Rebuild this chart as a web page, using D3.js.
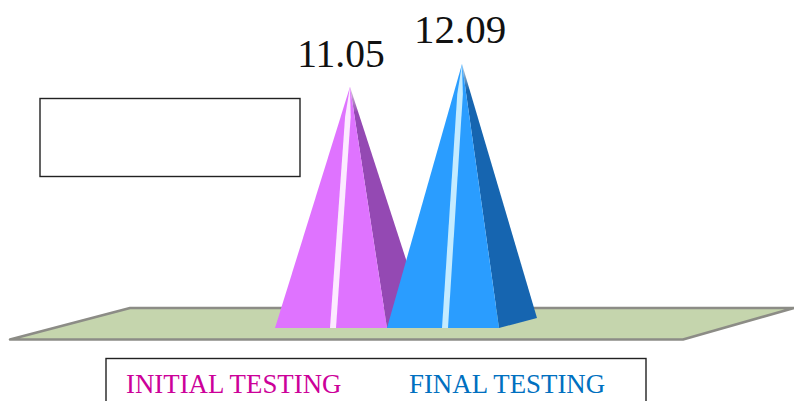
<!DOCTYPE html>
<html>
<head>
<meta charset="utf-8">
<script src="https://cdnjs.cloudflare.com/ajax/libs/d3/7.8.5/d3.min.js"></script>
<style>
    html, body { margin: 0; padding: 0; background: #fff; overflow: hidden; }
    text { font-family: "Liberation Serif", serif; }
</style>
</head>
<body>
<div id="chart"></div>
<script>
const categories = ["INITIAL TESTING", "FINAL TESTING"];
const values = [11.05, 12.09];
const frontColors = ["#df73ff", "#2a9dff"];
const sideColors = ["#9448b3", "#1565b0"];
const shineColors = ["#fcebff", "#c4ebff"];
const legendColors = ["#cc0099", "#0070c0"];

const width = 794, height = 401;
const baseY = 328;
const depthX = 38, depthY = 10;

// label placement relative to the apex, the labels sit by hand in the reference
const labelDx = [-9, -2];
const labelDy = [-20, -21];
const labelSize = [39.5, 41];

const svg = d3.select("#chart").append("svg")
    .attr("width", width)
    .attr("height", height)
    .style("display", "block");

// soft edges, the reference is a scaled up bitmap
const defs = svg.append("defs");
defs.append("filter").attr("id", "soft")
    .append("feGaussianBlur").attr("stdDeviation", 0.45);

const x = d3.scaleBand().domain(categories).range([275, 499]);
const y = d3.scaleLinear().domain([0, 12.09]).range([baseY, 64]);

const line = d3.line();

// empty box top left
svg.append("rect")
    .attr("x", 40).attr("y", 98.5)
    .attr("width", 260).attr("height", 78)
    .attr("fill", "#fff")
    .attr("stroke", "#222")
    .attr("stroke-width", 1.4);

// floor
svg.append("path")
    .attr("d", line([[10, 339.5], [130, 308], [794, 308], [683, 339.5]]) + "Z")
    .attr("fill", "#c5d5ad")
    .attr("stroke", "#8c8c86")
    .attr("stroke-width", 2.6)
    .attr("stroke-linejoin", "round")
    .attr("filter", "url(#soft)");

// pyramids, one group per category
categories.forEach((c, i) => {
    const left = x(c);
    const right = left + x.bandwidth();
    const mid = left + x.bandwidth() / 2;
    const apex = [mid + depthX / 2, y(values[i])];
    const g = svg.append("g").attr("filter", "url(#soft)");

    // fades the side face to grey at the tip
    const grad = defs.append("linearGradient")
        .attr("id", "side" + i)
        .attr("gradientUnits", "userSpaceOnUse")
        .attr("x1", 0).attr("x2", 0)
        .attr("y1", apex[1]).attr("y2", apex[1] + 26);
    grad.append("stop").attr("offset", 0).attr("stop-color", "#d8d8d8");
    grad.append("stop").attr("offset", 1).attr("stop-color", sideColors[i]);

    g.append("path")
        .attr("d", line([apex, [right, baseY], [right + depthX, baseY - depthY]]) + "Z")
        .attr("fill", `url(#side${i})`);

    g.append("path")
        .attr("d", line([apex, [left, baseY], [right, baseY]]) + "Z")
        .attr("fill", frontColors[i]);

    // the highlight keeps its width down the face and only narrows at the tip
    const shineTop = apex[1] + 30;
    const shineX = d3.scaleLinear().domain([apex[1], baseY]).range([apex[0], mid + 2]);
    g.append("path")
        .attr("d", line([
            apex,
            [shineX(shineTop) - 2.8, shineTop],
            [mid - 1, baseY],
            [mid + 5, baseY],
            [shineX(shineTop) + 2.8, shineTop]
        ]) + "Z")
        .attr("fill", shineColors[i]);

    svg.append("text")
        .attr("x", apex[0] + labelDx[i])
        .attr("y", apex[1] + labelDy[i])
        .attr("text-anchor", "middle")
        .attr("font-size", labelSize[i])
        .attr("fill", "#111")
        .text(values[i]);
});

// legend, runs off the bottom of the image
svg.append("rect")
    .attr("x", 106).attr("y", 358.5)
    .attr("width", 540).attr("height", 60)
    .attr("fill", "#fff")
    .attr("stroke", "#222")
    .attr("stroke-width", 1.4);

const legendX = [126, 409];
categories.forEach((c, i) => {
    svg.append("text")
        .attr("x", legendX[i])
        .attr("y", 393)
        .attr("font-size", 26.85)
        .attr("fill", legendColors[i])
        .text(c);
});
</script>
</body>
</html>
